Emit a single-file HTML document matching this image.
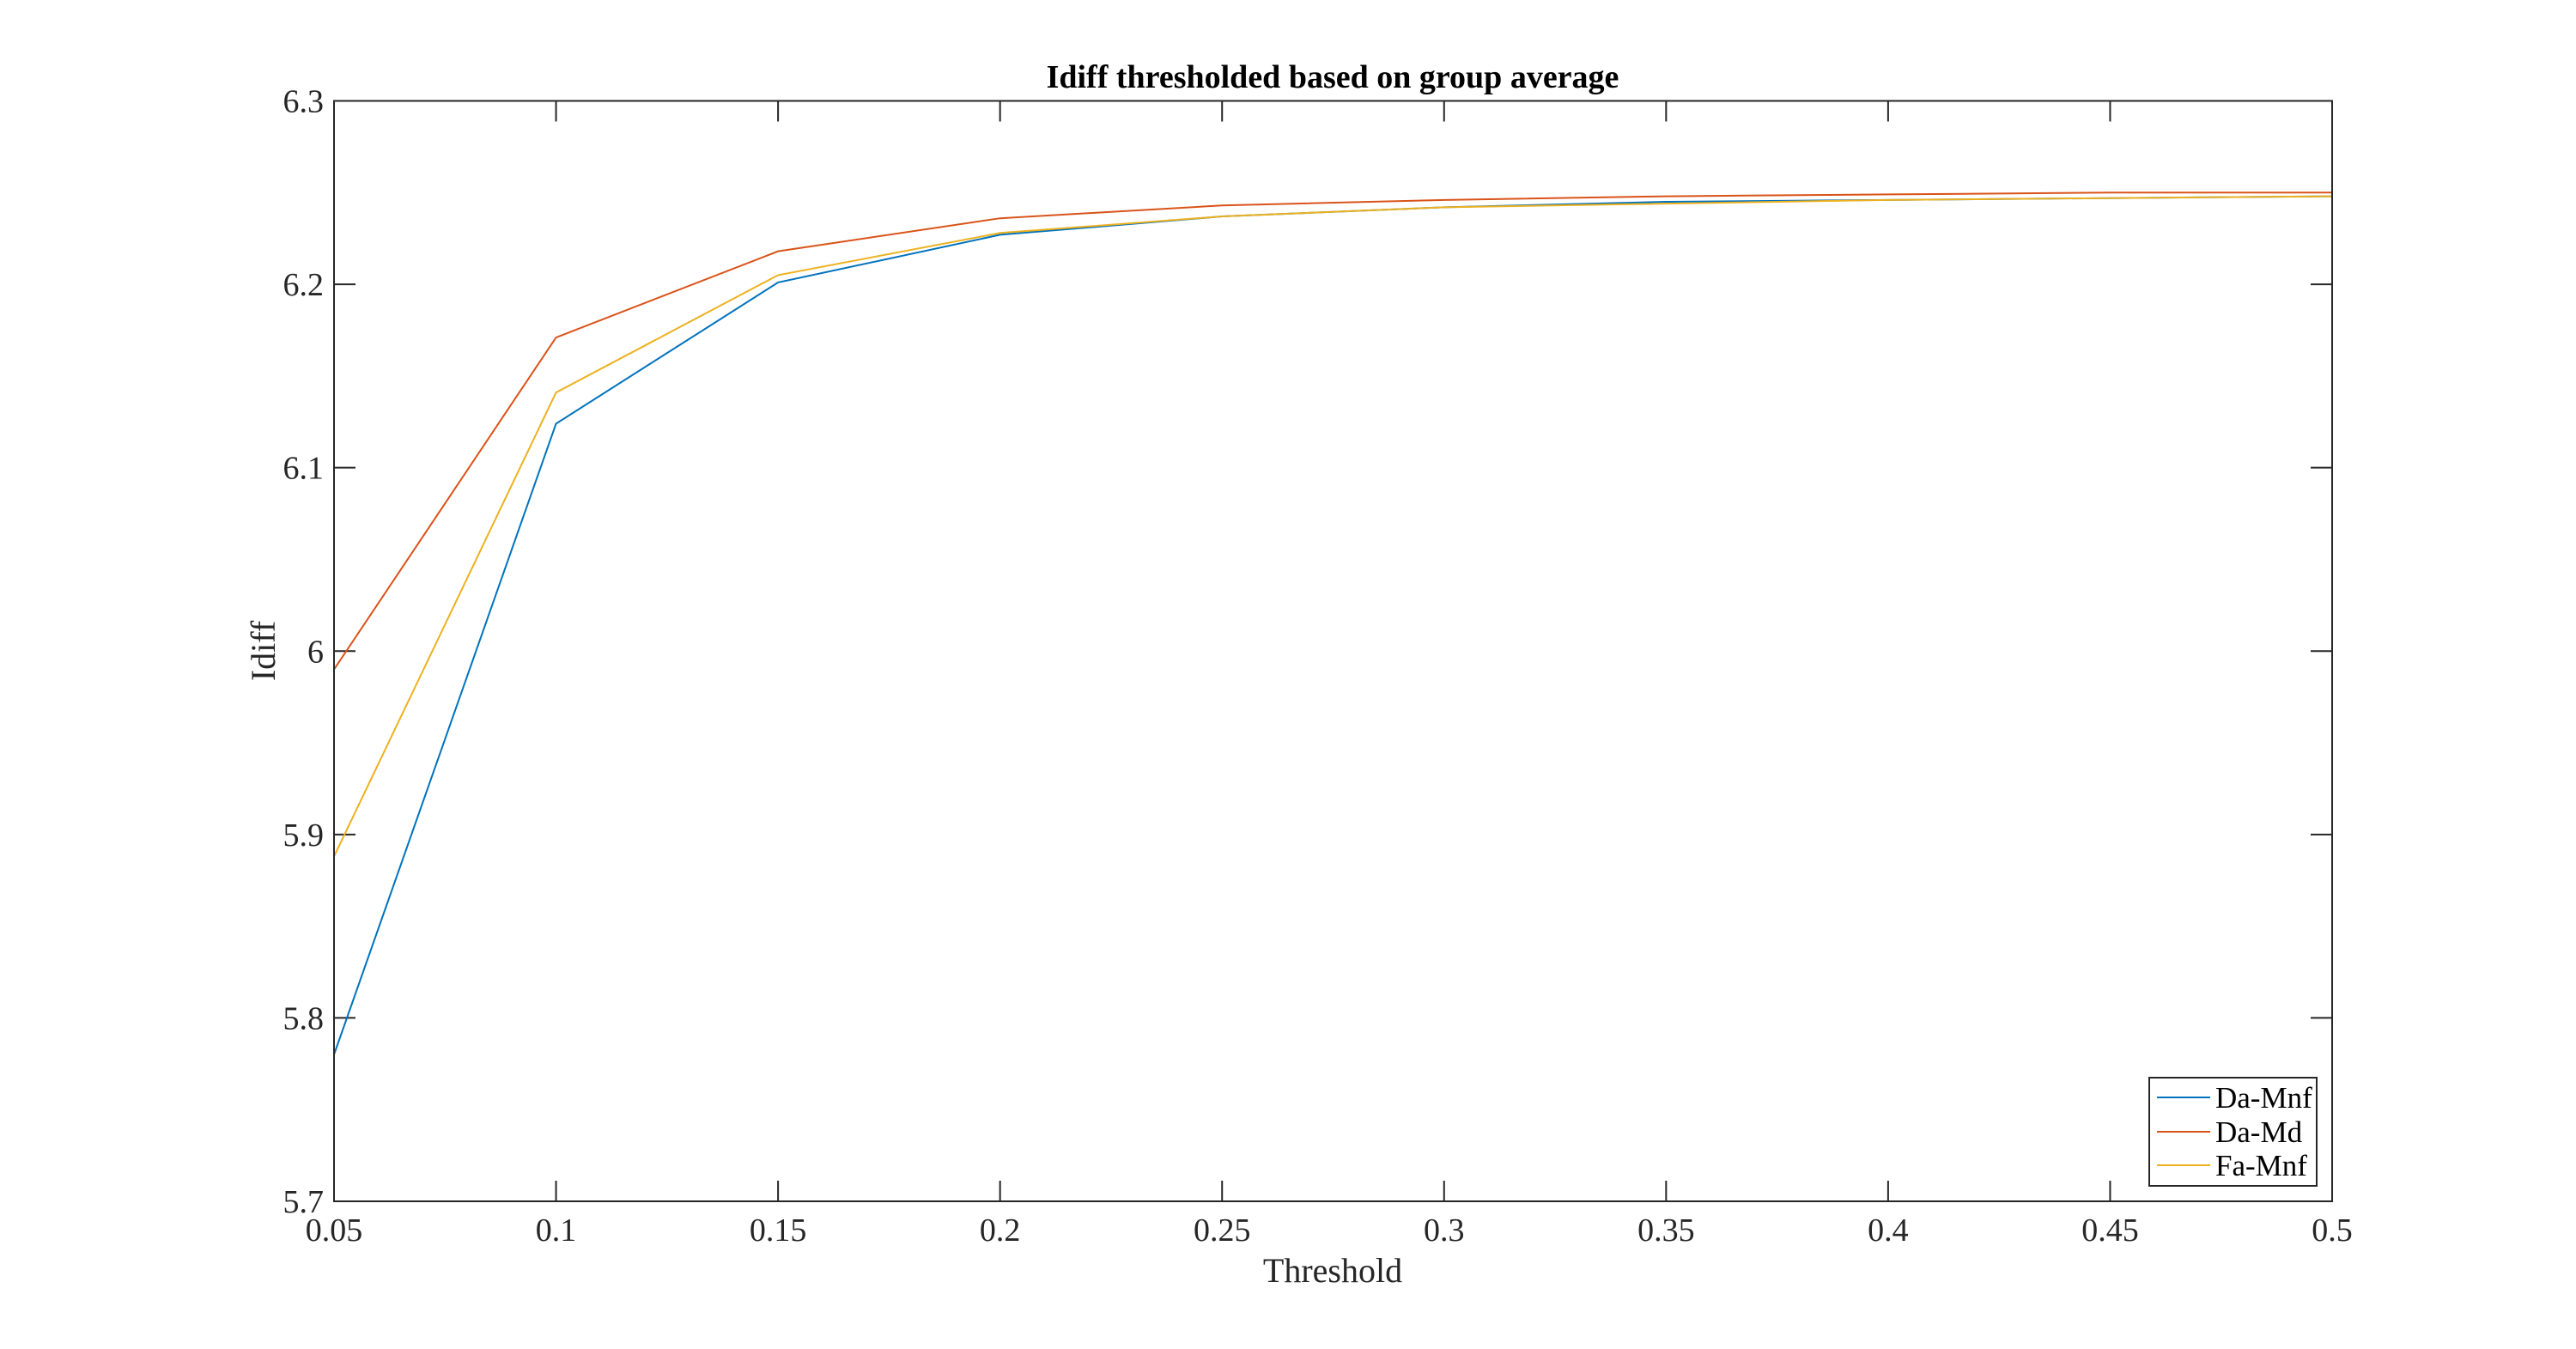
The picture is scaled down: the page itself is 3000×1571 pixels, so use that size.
<!DOCTYPE html>
<html><head><meta charset="utf-8"><style>
body{margin:0;background:#fff;}
svg{display:block;font-family:"Liberation Serif",serif;}
</style></head><body>
<svg id="chart" width="3000" height="1571" viewBox="0 0 3000 1571">
<rect width="3000" height="1571" fill="#fff"/>
<g id="grid"></g>
<g id="series"></g>
<rect x="389" y="117.5" width="2327" height="1281.5" fill="none" stroke="#262626" stroke-width="2"/>
<text x="1552" y="102" text-anchor="middle" font-size="38" font-weight="bold" fill="#000">Idiff thresholded based on group average</text>
<text x="1552" y="1493" text-anchor="middle" font-size="40" fill="#262626">Threshold</text>
<text transform="translate(320,758) rotate(-90)" text-anchor="middle" font-size="40" fill="#262626">Idiff</text>
<g>
<rect x="2503" y="1255" width="195" height="126" fill="#fff" stroke="#262626" stroke-width="2"/>
<line x1="2512" y1="1278" x2="2574" y2="1278" stroke="#0072BD" stroke-width="2"/>
<text x="2580" y="1290" font-size="35">Da-Mnf</text>
<line x1="2512" y1="1318" x2="2574" y2="1318" stroke="#D95319" stroke-width="2"/>
<text x="2580" y="1330" font-size="35">Da-Md</text>
<line x1="2512" y1="1357" x2="2574" y2="1357" stroke="#EDB120" stroke-width="2"/>
<text x="2580" y="1369" font-size="35">Fa-Mnf</text>
</g>
</svg>
<script>
const xValues=[0.05,0.1,0.15,0.2,0.25,0.3,0.35,0.4,0.45,0.5];
const daMnf=[5.78,6.124,6.201,6.227,6.237,6.242,6.245,6.246,6.247,6.248];
const daMd=[5.99,6.171,6.218,6.236,6.243,6.246,6.248,6.249,6.25,6.25];
const faMnf=[5.888,6.141,6.205,6.228,6.237,6.242,6.244,6.246,6.247,6.248];
const xTicks=[0.05,0.1,0.15,0.2,0.25,0.3,0.35,0.4,0.45,0.5];
const xTickLabels=["0.05","0.1","0.15","0.2","0.25","0.3","0.35","0.4","0.45","0.5"];
const yTicks=[5.7,5.8,5.9,6,6.1,6.2,6.3];
const yTickLabels=["5.7","5.8","5.9","6","6.1","6.2","6.3"];
const L=389,R=2716,T=117.5,B=1399;
const sx=v=>L+(v-0.05)/(0.5-0.05)*(R-L);
const sy=v=>B-(v-5.7)/(6.3-5.7)*(B-T);
const NS="http://www.w3.org/2000/svg";
const g=document.getElementById('grid'),s=document.getElementById('series');
function mk(tag,attrs,parent){const e=document.createElementNS(NS,tag);for(const k in attrs)e.setAttribute(k,attrs[k]);parent.appendChild(e);return e;}
xTicks.forEach((v,i)=>{const x=sx(v);
 let t=mk('line',{x1:x,y1:B,x2:x,y2:B-24,stroke:'#262626','stroke-width':2},g);
 
 
 let t2=mk('line',{x1:x,y1:T,x2:x,y2:T+24,stroke:'#262626','stroke-width':2},g);
 
 
 let tx=mk('text',{x:x,y:1445,'text-anchor':'middle','font-size':38,fill:'#262626'},g);tx.textContent=xTickLabels[i];
 
 
});
yTicks.forEach((v,i)=>{const y=sy(v);
 let t=mk('line',{x1:L,y1:y,x2:L+25,y2:y,stroke:'#262626','stroke-width':2},g);
 
 
 let t2=mk('line',{x1:R,y1:y,x2:R-25,y2:y,stroke:'#262626','stroke-width':2},g);
 
 
 let tx=mk('text',{x:377,y:y+13,'text-anchor':'end','font-size':38,fill:'#262626'},g);tx.textContent=yTickLabels[i];
 
 
});
[[daMnf,'#0072BD','line-da-mnf'],[daMd,'#D95319','line-da-md'],[faMnf,'#EDB120','line-fa-mnf']].forEach(([d,c,n])=>{
 const p=mk('polyline',{points:d.map((v,i)=>sx(xValues[i])+','+sy(v)).join(' '),fill:'none',stroke:c,'stroke-width':2},s);
 
 
});
</script>
</body></html>
